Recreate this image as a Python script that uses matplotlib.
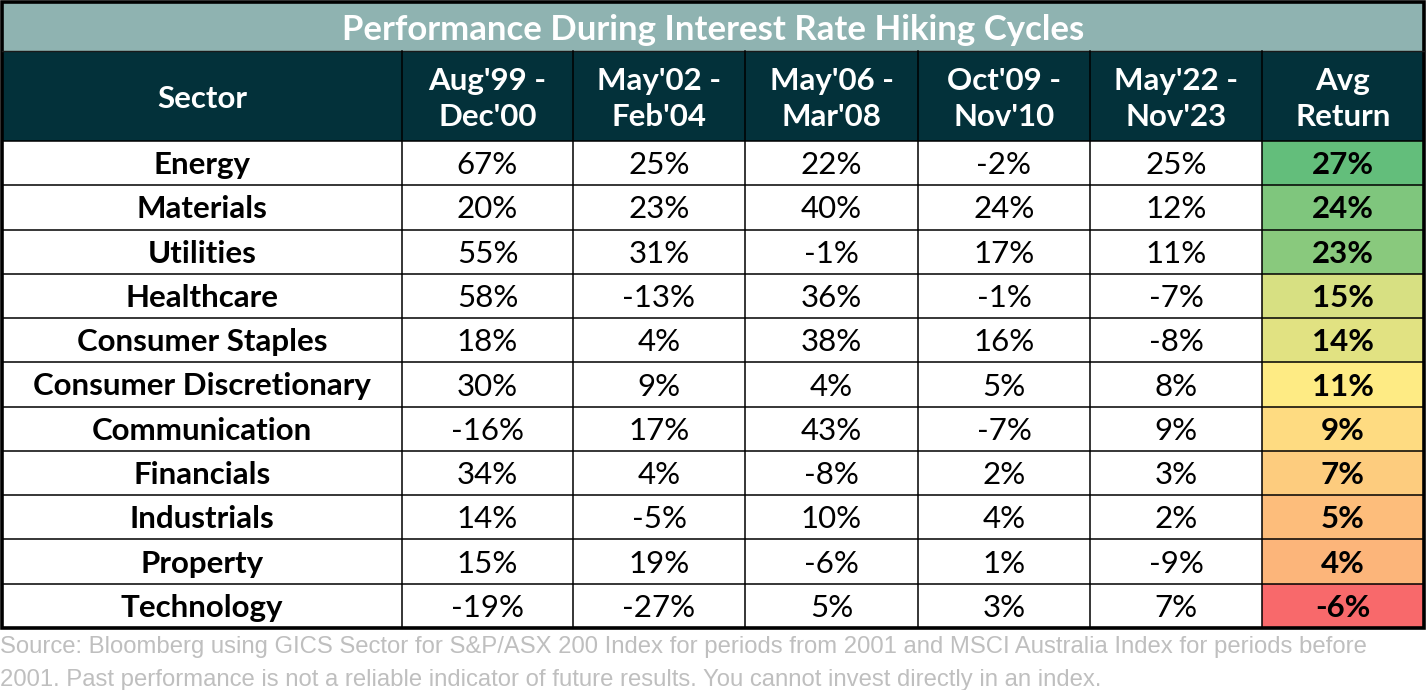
import matplotlib
matplotlib.use("Agg")
import matplotlib.pyplot as plt
from matplotlib.patches import Rectangle
from matplotlib.colors import LinearSegmentedColormap, TwoSlopeNorm
import numpy as np

title = "Performance During Interest Rate Hiking Cycles"
headers = ["Sector", "Aug'99 -\nDec'00", "May'02 -\nFeb'04", "May'06 -\nMar'08",
           "Oct'09 -\nNov'10", "May'22 -\nNov'23", "Avg\nReturn"]
sectors = ["Energy", "Materials", "Utilities", "Healthcare", "Consumer Staples",
           "Consumer Discretionary", "Communication", "Financials", "Industrials",
           "Property", "Technology"]
p1 = [67, 20, 55, 58, 18, 30, -16, 34, 14, 15, -19]
p2 = [25, 23, 31, -13, 4, 9, 17, 4, -5, 19, -27]
p3 = [22, 40, -1, 36, 38, 4, 43, -8, 10, -6, 5]
p4 = [-2, 24, 17, -1, 16, 5, -7, 2, 4, 1, 3]
p5 = [25, 12, 11, -7, -8, 8, 9, 3, 2, -9, 7]
avg = [27, 24, 23, 15, 14, 11, 9, 7, 5, 4, -6]
footnote = ("Source: Bloomberg using GICS Sector for S&P/ASX 200 Index for periods from 2001 and MSCI Australia Index for periods before\n"
            "2001. Past performance is not a reliable indicator of future results. You cannot invest directly in an index.")

W, H = 1426, 690
fig = plt.figure(figsize=(W / 100, H / 100), dpi=100)
ax = fig.add_axes([0, 0, 1, 1])
ax.set_xlim(0, W)
ax.set_ylim(H, 0)
ax.axis("off")

col_edges = [2, 402, 573, 745, 918, 1090, 1262, 1424]
title_top, title_bot = 2, 51
head_bot = 141
table_bot = 628
nrows = len(sectors)
row_h = (table_bot - head_bot) / nrows

title_col = "#8FB3B1"
head_col = "#03313A"
FONT = "Lato"
FS = 22.5

cmap = LinearSegmentedColormap.from_list("excel3", ["#F8696B", "#FFEB84", "#63BE7B"])
vals = np.array(avg, dtype=float)
norm = TwoSlopeNorm(vmin=vals.min(), vcenter=np.median(vals), vmax=vals.max())

# title band
ax.add_patch(Rectangle((col_edges[0], title_top), col_edges[-1] - col_edges[0],
                       title_bot - title_top, facecolor=title_col, edgecolor="none"))
ax.text((col_edges[0] + col_edges[-1]) / 2, (title_top + title_bot) / 2 + 3, title,
        ha="center", va="center", color="white", fontsize=25, fontweight="bold",
        family=FONT)

# header band
ax.add_patch(Rectangle((col_edges[0], title_bot), col_edges[-1] - col_edges[0],
                       head_bot - title_bot, facecolor=head_col, edgecolor="none"))
for i, h in enumerate(headers):
    cx = (col_edges[i] + col_edges[i + 1]) / 2
    ax.text(cx, (title_bot + head_bot) / 2 + 3, h, ha="center", va="center",
            color="white", fontsize=FS, fontweight="bold", family=FONT,
            linespacing=1.38)

columns = [p1, p2, p3, p4, p5]
for r in range(nrows):
    y0 = head_bot + r * row_h
    cy = y0 + row_h / 2 + 2
    # avg cell
    ax.add_patch(Rectangle((col_edges[6], y0), col_edges[7] - col_edges[6], row_h,
                           facecolor=cmap(norm(avg[r])), edgecolor="none"))
    ax.text((col_edges[0] + col_edges[1]) / 2, cy, sectors[r], ha="center", va="center",
            fontsize=FS, fontweight="bold", family=FONT, color="black")
    for c, col in enumerate(columns):
        cx = (col_edges[c + 1] + col_edges[c + 2]) / 2
        ax.text(cx, cy, f"{col[r]}%", ha="center", va="center", fontsize=FS,
                family=FONT, color="black")
    ax.text((col_edges[6] + col_edges[7]) / 2, cy, f"{avg[r]}%", ha="center",
            va="center", fontsize=FS, fontweight="bold", family=FONT, color="black")

# grid lines
for r in range(1, nrows):
    y = head_bot + r * row_h
    ax.plot([col_edges[0], col_edges[-1]], [y, y], color="black", lw=1.1)
ax.plot([col_edges[0], col_edges[-1]], [head_bot, head_bot], color="black", lw=1.1)
ax.plot([col_edges[0], col_edges[-1]], [title_bot, title_bot], color="#1a1a1a", lw=1.0)
for x in col_edges[1:-1]:
    ax.plot([x, x], [title_bot, table_bot], color="black", lw=1.1)
# outer border
ax.add_patch(Rectangle((col_edges[0], title_top), col_edges[-1] - col_edges[0],
                       table_bot - title_top, facecolor="none", edgecolor="black", lw=2.6))

ax.text(0, 636, footnote, ha="left", va="top", fontsize=17.2, color="#BFBFBF",
        family="Liberation Sans", linespacing=1.62)

fig.savefig("out.png", dpi=100)
